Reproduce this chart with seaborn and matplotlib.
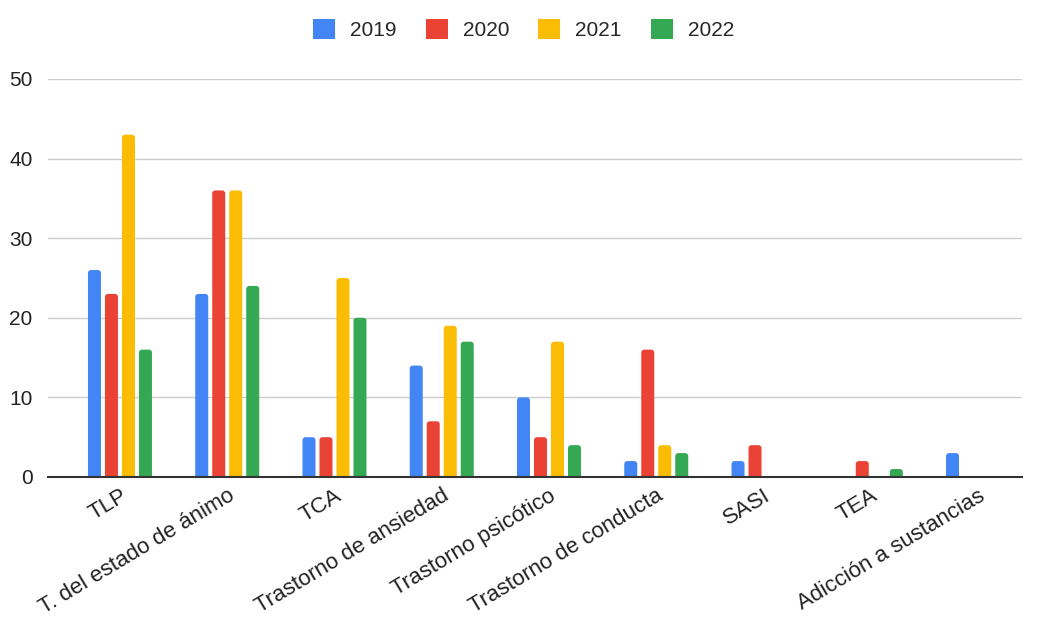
import matplotlib
matplotlib.use("Agg")
import matplotlib.pyplot as plt
from matplotlib.patches import FancyBboxPatch, Patch
import seaborn as sns
import pandas as pd

categories = ["TLP", "T. del estado de ánimo", "TCA", "Trastorno de ansiedad",
              "Trastorno psicótico", "Trastorno de conducta", "SASI", "TEA",
              "Adicción a sustancias"]
years = ["2019", "2020", "2021", "2022"]
v2019 = [26, 23, 5, 14, 10, 2, 2, 0, 3]
v2020 = [23, 36, 5, 7, 5, 16, 4, 2, 0]
v2021 = [43, 36, 25, 19, 17, 4, 0, 0, 0]
v2022 = [16, 24, 20, 17, 4, 3, 0, 1, 0]
colors = ["#4285F4", "#EA4335", "#FBBC04", "#34A853"]

rows = []
for y, vals in zip(years, [v2019, v2020, v2021, v2022]):
    for c, v in zip(categories, vals):
        rows.append({"cat": c, "year": y, "val": v})
df = pd.DataFrame(rows)

sns.set_theme(style="white")
plt.rcParams['font.family'] = ['Liberation Sans', 'DejaVu Sans']

W, H = 1037, 624
fig = plt.figure(figsize=(W / 100, H / 100), dpi=100)
ax_l, ax_r, ax_t, ax_b = 48, 1022, 79, 477
ax = fig.add_axes([ax_l / W, 1 - ax_b / H, (ax_r - ax_l) / W, (ax_b - ax_t) / H])
sns.barplot(data=df, x="cat", y="val", hue="year", order=categories,
            hue_order=years, palette=colors, width=0.634, gap=0.235,
            saturation=1, ax=ax, legend=False)

xlim = (-0.671, 8.41)
ylim = (0, 50)
ax.set_xlim(*xlim)
ax.set_ylim(*ylim)

# rounded bar tops
xu = (xlim[1] - xlim[0]) / (ax_r - ax_l)   # data units per px (x)
yu = (ylim[1] - ylim[0]) / (ax_b - ax_t)   # data units per px (y)
r_px = 3.0
for p in list(ax.patches):
    h = p.get_height()
    x0, w = p.get_x(), p.get_width()
    fc = p.get_facecolor()
    p.remove()
    if h <= 0:
        continue
    fb = FancyBboxPatch((x0, -r_px * yu), w, h + r_px * yu,
                        boxstyle=f"round,pad=0,rounding_size={r_px * xu}",
                        mutation_aspect=yu / xu, facecolor=fc,
                        edgecolor="none", zorder=2)
    ax.add_patch(fb)

ax.set_yticks([0, 10, 20, 30, 40, 50])
ax.yaxis.grid(True, color="#cccccc", linewidth=1)
ax.set_axisbelow(True)
for s in ["top", "right", "left"]:
    ax.spines[s].set_visible(False)
ax.spines["bottom"].set_color("#333333")
ax.spines["bottom"].set_linewidth(1.5)
ax.spines["bottom"].set_zorder(3)
ax.set_xlabel("")
ax.set_ylabel("")
ax.tick_params(axis="y", length=0, labelsize=15, labelcolor="#222222", pad=11)
ax.tick_params(axis="x", length=0, labelsize=16, labelcolor="#222222", pad=6)
ax.set_xticks(range(len(categories)))
ax.set_xticklabels(categories, rotation=31, ha="right", rotation_mode="anchor")

handles = [Patch(facecolor=c, edgecolor="none", linewidth=0) for c in colors]
fig.legend(handles, years, loc="center", bbox_to_anchor=(0.505, 0.953),
           ncol=4, frameon=False, fontsize=15, handlelength=1.05,
           handleheight=1.15, columnspacing=1.4, handletextpad=0.72)

fig.savefig("out.png", dpi=100, facecolor="white")
